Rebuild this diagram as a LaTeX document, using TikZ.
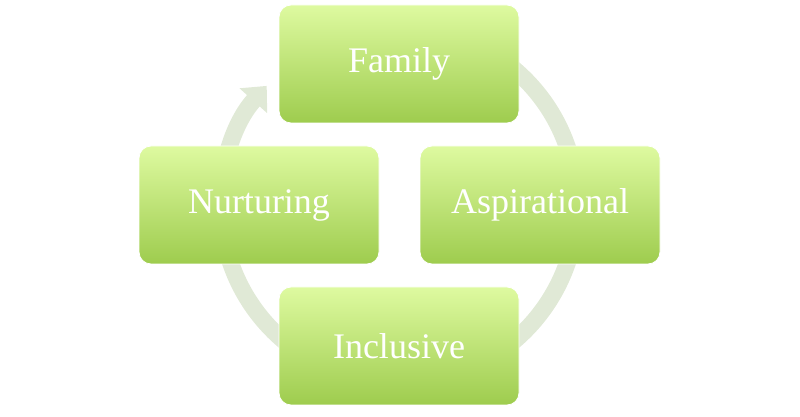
\documentclass[tikz,border=0pt]{standalone}
\usepackage{fontspec}
\setmainfont{Liberation Serif}
\usetikzlibrary{arrows.meta}
\definecolor{boxtop}{RGB}{222,250,160}
\definecolor{boxbot}{RGB}{158,204,78}
\definecolor{ring}{RGB}{224,233,214}
\tikzset{
  cyclebox/.style={rounded corners=12pt,minimum width=240pt,minimum height=118pt,
    top color=boxtop,bottom color=boxbot,draw=white,line width=0.8pt,
    text=white,font=\fontsize{36}{40}\selectfont},
}
\begin{document}
\begin{tikzpicture}[x=1pt,y=1pt]
  \useasboundingbox (0,0) rectangle (800,417);
  \coordinate (c) at (399,212);
  \draw[ring,line width=17pt,-{Triangle[length=20pt,width=36pt]}]
    (c) ++(100:178)
    arc
    [start angle=100,end angle=-222,radius=178];
  \node[cyclebox] (family) at (399,353) {Family};
  \node[cyclebox] (aspirational) at (540,212) {Aspirational};
  \node[cyclebox] (inclusive) at (399,71) {Inclusive};
  \node[cyclebox] (nurturing) at (259,212) {Nurturing};
\end{tikzpicture}
\end{document}
